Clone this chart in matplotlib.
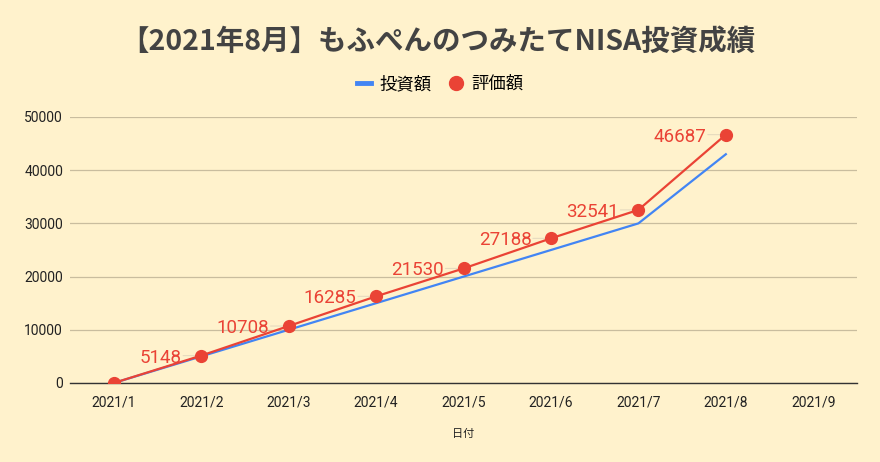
import matplotlib.pyplot as plt
from matplotlib.lines import Line2D

plt.rcParams['font.family'] = ['Roboto', 'Noto Sans CJK JP', 'DejaVu Sans']

# Data
months = ['2021/1', '2021/2', '2021/3', '2021/4', '2021/5', '2021/6', '2021/7', '2021/8', '2021/9']
invested = [0, 5000, 10000, 15000, 20000, 25000, 30000, 43000]
valuation = [0, 5148, 10708, 16285, 21530, 27188, 32541, 46687]
yticks = [0, 10000, 20000, 30000, 40000, 50000]

BG = '#fff2cc'
BLUE = '#4285f4'
RED = '#ea4335'

fig = plt.figure(figsize=(8.8, 4.62), dpi=100, facecolor=BG)
ax = fig.add_axes([70 / 880, 1 - 383 / 462, 787 / 880, 266 / 462])
ax.set_facecolor(BG)

x_inv = list(range(len(invested)))
x_val = list(range(len(valuation)))
ax.plot(x_inv, invested, color=BLUE, linewidth=1.6, zorder=3)
ax.plot(x_val, valuation, color=RED, linewidth=1.6, zorder=4)
ax.plot(x_val, valuation, 'o', color=RED, markersize=8.5, zorder=5)

for xi, v in zip(x_val[1:], valuation[1:]):
    ax.annotate('', xy=(xi, v), xytext=(-13, 0), textcoords='offset points',
                arrowprops=dict(arrowstyle='-', color='#e6dbbf', lw=0.8, shrinkA=0, shrinkB=4),
                zorder=2)
    ax.annotate(str(v), xy=(xi, v), xytext=(-14, 0), textcoords='offset points',
                ha='right', va='center_baseline', color=RED, fontsize=13.5,
                family=['Roboto', 'DejaVu Sans'], zorder=6)

ax.set_xlim(-0.5, len(months) - 0.5)
ax.set_ylim(0, 50000)
ax.set_xticks(range(len(months)))
ax.set_xticklabels(months)
ax.set_yticks(yticks)
ax.set_yticklabels([str(t) for t in yticks])
ax.tick_params(axis='both', length=0, labelsize=10, colors='#222222')
ax.tick_params(axis='x', pad=9)
ax.tick_params(axis='y', pad=5)
ax.grid(axis='y', color='#c9bd9e', linewidth=0.9)
ax.set_axisbelow(True)
for s in ['top', 'right', 'left']:
    ax.spines[s].set_visible(False)
ax.spines['bottom'].set_color('#333333')
ax.spines['bottom'].set_linewidth(1.0)
ax.spines['bottom'].set_zorder(2)

ax.set_xlabel('日付', fontsize=8, color='#222222', labelpad=14)

fig.text(438 / 880, 1 - 42 / 462, '【2021年8月】もふぺんのつみたてNISA投資成績', ha='center', va='center',
         fontsize=20.5, fontweight='bold', color='#434343',
         family=['Noto Sans CJK JP', 'DejaVu Sans'])

handles = [Line2D([], [], color=BLUE, linewidth=3.5),
           Line2D([], [], color=RED, marker='o', linestyle='none', markersize=10)]
fig.legend(handles, ['投資額', '評価額'], loc='center', bbox_to_anchor=(0.5, 1 - 84 / 462),
           ncol=2, frameon=False, handlelength=0.8, handletextpad=0.5,
           columnspacing=1.0, prop={'family': ['Noto Sans CJK JP', 'DejaVu Sans'], 'size': 12.5})

fig.savefig('out.png', dpi=100, facecolor=BG)
